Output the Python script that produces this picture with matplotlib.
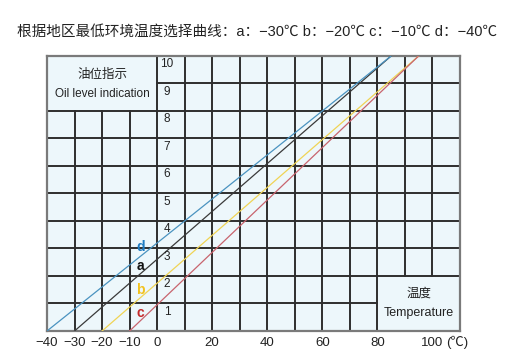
import matplotlib.pyplot as plt

plt.rcParams['font.family'] = ['Liberation Sans', 'Noto Sans CJK SC', 'DejaVu Sans']

# 曲线: 起点温度(油位0) -> 终点温度(油位10)
curve_names = ['a', 'b', 'c', 'd']
start_temp = [-30, -20, -10, -40]
end_temp = [85, 95, 95, 85]
line_colors = ['#3a3a3a', '#f0d455', '#c8646e', '#4a93c0']
label_colors = ['#111111', '#f2c21e', '#c42a2a', '#1f7cc2']
label_y = [2.36, 1.49, 0.65, 3.05]

oil_levels = [1, 2, 3, 4, 5, 6, 7, 8, 9, 10]
xtick_pos = [-40, -30, -20, -10, 0, 20, 40, 60, 80, 100]
xtick_lab = ['−40', '−30', '−20', '−10', '0', '20', '40', '60', '80', '100']

fig = plt.figure(figsize=(5.14, 3.61), dpi=100)
ax = fig.add_axes([0.0914, 0.0831, 0.8035, 0.7619])
ax.set_facecolor('#edf7fb')
ax.set_xlim(-40, 110)
ax.set_ylim(0, 10)

grid_c = '#2e2e2e'
lw = 1.4
# 竖线 (避开左上和右下的说明框)
for x in range(-30, 110, 10):
    y0, y1 = 0, 10
    if x < 0:
        y1 = 8
    if x > 80:
        y0 = 2
    ax.plot([x, x], [y0, y1], color=grid_c, lw=lw, zorder=1)
# 横线
for y in range(1, 10):
    x0, x1 = -40, 110
    if y > 8:
        x0 = 0
    if y < 2:
        x1 = 80
    ax.plot([x0, x1], [y, y], color=grid_c, lw=lw, zorder=1)

for s in ax.spines.values():
    s.set_color('#7a7a7a')
    s.set_linewidth(1.6)

for name, t0, t1, lc, tc, ly in zip(curve_names, start_temp, end_temp,
                                    line_colors, label_colors, label_y):
    ax.plot([t0, t1], [0, 10], color=lc, lw=0.9, zorder=3)
    ax.text(-6, ly, name, color=tc, fontsize=10, fontweight='bold',
            ha='center', va='center', zorder=4)

for k in oil_levels:
    ax.text(3.6, k - 0.3, str(k), fontsize=8.5, color='#222222',
            ha='center', va='center')

ax.text(-20, 9.3, '油位指示', fontsize=9, ha='center', va='center', color='#222222')
ax.text(-20, 8.62, 'Oil level indication', fontsize=8.5, ha='center', va='center',
        color='#222222')
ax.text(95, 1.35, '温度', fontsize=9, ha='center', va='center', color='#222222')
ax.text(95, 0.65, 'Temperature', fontsize=9, ha='center', va='center', color='#222222')

ax.set_xticks(xtick_pos)
ax.set_xticklabels(xtick_lab, fontsize=9.5, color='#222222')
ax.tick_params(axis='x', length=0, pad=4)
ax.set_yticks([])
ax.text(105, -0.42, '(℃)', fontsize=9.5, ha='left', va='center', color='#222222')

fig.text(0.033, 0.911, '根据地区最低环境温度选择曲线：a：−30℃ b：−20℃ c：−10℃ d：−40℃',
         fontsize=10.5, ha='left', va='center', color='#222222')

fig.savefig('out.png', dpi=100)
